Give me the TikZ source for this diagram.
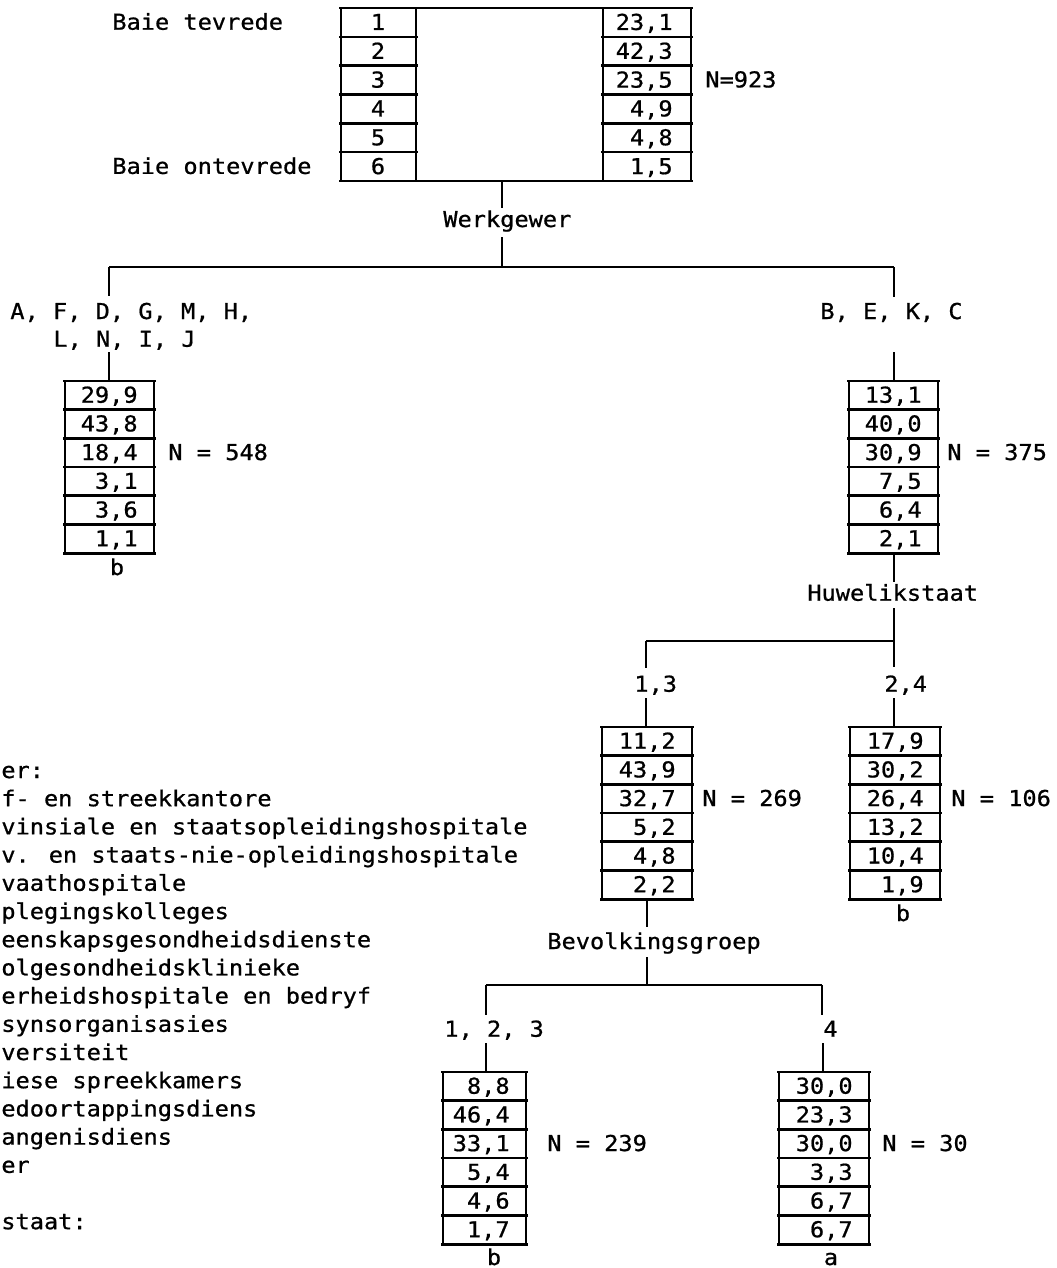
\documentclass[tikz,border=0pt]{standalone}
\usepackage{fontspec}
\newfontfamily\lpfont[FakeStretch=1.08,FakeBold=0.8]{DejaVu Sans Mono}
\usetikzlibrary{fit}

\tikzset{
  txt/.style={inner sep=0pt, font=\lpfont\fontsize{12.45}{15}\selectfont},
  rule/.style={line width=1.5pt},
  side/.style={line width=1.1pt},
  link/.style={line width=0.9pt},
}

% one column of six percentages: name, left x, top y, width, values a/b
\newcommand\numcolumn[5]{%
  \coordinate (#1-nw) at (#2,#3);
  \coordinate (#1-se) at (#2+#4,#3+172.2);
  \node[fit=(#1-nw)(#1-se), inner sep=0pt] (#1) {};
  \draw[side] (#2,#3) -- (#2,#3+172.2) (#2+#4,#3) -- (#2+#4,#3+172.2);
  \foreach \k in {0,...,6}
    \draw[rule] (#2-2,#3+\k*28.7) -- (#2+#4+2,#3+\k*28.7);
  \foreach \a/\b [count=\k] in {#5}
    \node[txt, anchor=base east] (#1-\k) at (#2+#4-16,#3+\k*28.7-7.0) {\a,\b};
}

\begin{document}
\begin{tikzpicture}[x=0.02cm, y=-0.02cm]
\useasboundingbox (0,0) rectangle (1057,1268);

% ---- overall distribution ----
\coordinate (T-nw) at (341,8);
\coordinate (T-se) at (691,181);
\node[fit=(T-nw)(T-se), inner sep=0pt] (T) {};
\draw[rule] (339,8) -- (693,8) (339,181) -- (693,181);
\draw[side] (341,8) -- (341,181) (416,8) -- (416,181)
            (603,8) -- (603,181) (691,8) -- (691,181);
\foreach \k in {1,...,5}
  \draw[rule] (339,8+\k*28.83) -- (418,8+\k*28.83)
              (601,8+\k*28.83) -- (693,8+\k*28.83);
\foreach \a/\b [count=\k] in {23/1,42/3,23/5,4/9,4/8,1/5} {
  \node[txt, anchor=base] (T-l\k) at (378,8+\k*28.83-6.9) {\k};
  \node[txt, anchor=base east] (T-r\k) at (673,8+\k*28.83-6.9) {\a,\b};
}
\node[txt, anchor=base west] (hi) at (112,29.7) {Baie tevrede};
\node[txt, anchor=base west] (lo) at (112,173.9) {Baie ontevrede};
\node[txt, anchor=base west] (nT) at (705,87.4) {N=923};

% ---- split on Werkgewer ----
\node[txt, anchor=base west] (werk) at (443,227) {Werkgewer};
\coordinate (t-out) at (502,181);
\coordinate (werk-in) at (502,208);
\coordinate (werk-out) at (502,237);
\coordinate (bar1) at (502,267);
\draw[link] (t-out) -- (werk-in);
\draw[link] (werk-out) -- (bar1);
\coordinate (bar1-l) at (109,267);
\coordinate (bar1-r) at (894,267);
\draw[link] (bar1-l) -- (bar1-r);

% left group
\node[txt, anchor=base west] (gA1) at (10,319) {A, F, D, G, M, H,};
\node[txt, anchor=base west] (gA2) at (53,346.7) {L, N, I, J};
\coordinate (gA-in) at (109,296);
\coordinate (gA-out) at (109,352);
\draw[link] (bar1-l) -- (gA-in);
\numcolumn{L}{65}{381}{89}{29/9,43/8,18/4,3/1,3/6,1/1}
\draw[link] (gA-out) -- (L.north -| gA-out);
\node[txt, anchor=base west] (nL) at (168,460) {N = 548};
\node[txt, anchor=base] (bL) at (117,575) {b};

% right group
\node[txt, anchor=base west] (gB) at (820,319) {B, E, K, C};
\coordinate (gB-in) at (894,297);
\coordinate (gB-out) at (894,352);
\draw[link] (bar1-r) -- (gB-in);
\numcolumn{R}{849}{381}{89}{13/1,40/0,30/9,7/5,6/4,2/1}
\draw[link] (gB-out) -- (R.north -| gB-out);
\node[txt, anchor=base west] (nR) at (947,460) {N = 375};

% ---- split on Huwelikstaat ----
\node[txt, anchor=base west] (huw) at (807,600.7) {Huwelikstaat};
\coordinate (huw-in) at (894,582);
\coordinate (huw-out) at (894,608);
\coordinate (bar2-r) at (894,641);
\coordinate (bar2-l) at (646,641);
\draw[link] (R.south -| huw-in) -- (huw-in);
\draw[link] (huw-out) -- (bar2-r);
\draw[link] (bar2-l) -- (bar2-r);

\node[txt, anchor=base west] (m13) at (634,691.7) {1,3};
\coordinate (m13-in) at (646,668);
\coordinate (m13-out) at (646,698);
\draw[link] (bar2-l) -- (m13-in);
\numcolumn{M1}{602}{727}{90}{11/2,43/9,32/7,5/2,4/8,2/2}
\draw[link] (m13-out) -- (M1.north -| m13-out);
\node[txt, anchor=base west] (nM1) at (702,806) {N = 269};

\node[txt, anchor=base west] (m24) at (884,691.7) {2,4};
\coordinate (m24-in) at (894,667);
\coordinate (m24-out) at (894,698);
\draw[link] (bar2-r) -- (m24-in);
\numcolumn{M2}{850}{727}{90}{17/9,30/2,26/4,13/2,10/4,1/9}
\draw[link] (m24-out) -- (M2.north -| m24-out);
\node[txt, anchor=base west] (nM2) at (951,806) {N = 106};
\node[txt, anchor=base] (bM2) at (903,921) {b};

% ---- split on Bevolkingsgroep ----
\node[txt, anchor=base west] (bev) at (547,949) {Bevolkingsgroep};
\coordinate (bev-in) at (647,927);
\coordinate (bev-out) at (647,957);
\coordinate (bar3-l) at (486,985);
\coordinate (bar3-r) at (822,985);
\draw[link] (M1.south -| bev-in) -- (bev-in);
\draw[link] (bev-out) -- (bar3-l -| bev-out);
\draw[link] (bar3-l) -- (bar3-r);

\node[txt, anchor=base west] (p123) at (444,1036.7) {1, 2, 3};
\coordinate (p123-in) at (486,1015);
\coordinate (p123-out) at (486,1043);
\draw[link] (bar3-l) -- (p123-in);
\numcolumn{B1}{443}{1072}{83}{8/8,46/4,33/1,5/4,4/6,1/7}
\draw[link] (p123-out) -- (B1.north -| p123-out);
\node[txt, anchor=base west] (nB1) at (547,1151) {N = 239};
\node[txt, anchor=base] (bB1) at (494,1265) {b};

\node[txt, anchor=base west] (p4) at (823,1036.7) {4};
\coordinate (p4-in) at (822,1015);
\coordinate (p4-out) at (823,1043);
\draw[link] (bar3-r) -- (p4-in);
\numcolumn{B2}{779}{1072}{90}{30/0,23/3,30/0,3/3,6/7,6/7}
\draw[link] (p4-out) -- (B2.north -| p4-out);
\node[txt, anchor=base west] (nB2) at (882,1151) {N = 30};
\node[txt, anchor=base] (aB2) at (831,1265) {a};

% ---- key, clipped at the left margin ----
\foreach \t [count=\k from 0] in {
  er:,
  f- en streekkantore,
  vinsiale en staatsopleidingshospitale,
  v. en staats-nie-opleidingshospitale,
  vaathospitale,
  plegingskolleges,
  eenskapsgesondheidsdienste,
  olgesondheidsklinieke,
  erheidshospitale en bedryf,
  synsorganisasies,
  versiteit,
  iese spreekkamers,
  edoortappingsdiens,
  angenisdiens,
  er}
  \node[txt, anchor=base west] (key\k) at (1,778+\k*28.2) {\t};
\node[txt, anchor=base west] (key16) at (1,778+16*28.2) {staat:};
\end{tikzpicture}
\end{document}
